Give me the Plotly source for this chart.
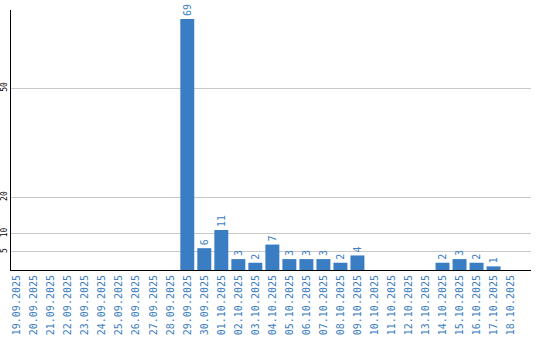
import plotly.graph_objects as go

dates = ["19.09.2025", "20.09.2025", "21.09.2025", "22.09.2025", "23.09.2025",
         "24.09.2025", "25.09.2025", "26.09.2025", "27.09.2025", "28.09.2025",
         "29.09.2025", "30.09.2025", "01.10.2025", "02.10.2025", "03.10.2025",
         "04.10.2025", "05.10.2025", "06.10.2025", "07.10.2025", "08.10.2025",
         "09.10.2025", "10.10.2025", "11.10.2025", "12.10.2025", "13.10.2025",
         "14.10.2025", "15.10.2025", "16.10.2025", "17.10.2025", "18.10.2025"]
values = [0, 0, 0, 0, 0, 0, 0, 0, 0, 0,
          69, 6, 11, 3, 2, 7, 3, 3, 3, 2,
          4, 0, 0, 0, 0, 2, 3, 2, 1, 0]
y_ticks = [5, 10, 20, 50]

blue = "#3a7dc2"
labels = [str(v) if v else "" for v in values]

fig = go.Figure(go.Bar(
    x=dates, y=values, text=labels, textposition="outside", textangle=-90,
    textfont=dict(family="DejaVu Sans Mono", size=10, color=blue),
    marker=dict(color=blue, line=dict(width=0)), cliponaxis=False,
))
fig.update_layout(
    width=540, height=340, margin=dict(l=11, r=9, t=10, b=70),
    paper_bgcolor="white", plot_bgcolor="white", bargap=0.18,
    showlegend=False,
    xaxis=dict(type="category", range=[-0.36, 30.2], tickangle=-90,
               tickfont=dict(family="DejaVu Sans Mono", size=10, color=blue),
               showline=True, linecolor="black", linewidth=1, showgrid=False,
               ticks="", fixedrange=True, automargin=False),
    yaxis=dict(range=[0, 71.5], tickvals=y_ticks, tickangle=-90,
               tickfont=dict(family="DejaVu Sans Mono", size=8, color="black"),
               showline=True, linecolor="black", linewidth=1,
               showgrid=True, gridcolor="#c8c8c8", gridwidth=1,
               zeroline=False, ticks="", ticklabelstandoff=0, automargin=False),
)
fig.write_html("out.html")
